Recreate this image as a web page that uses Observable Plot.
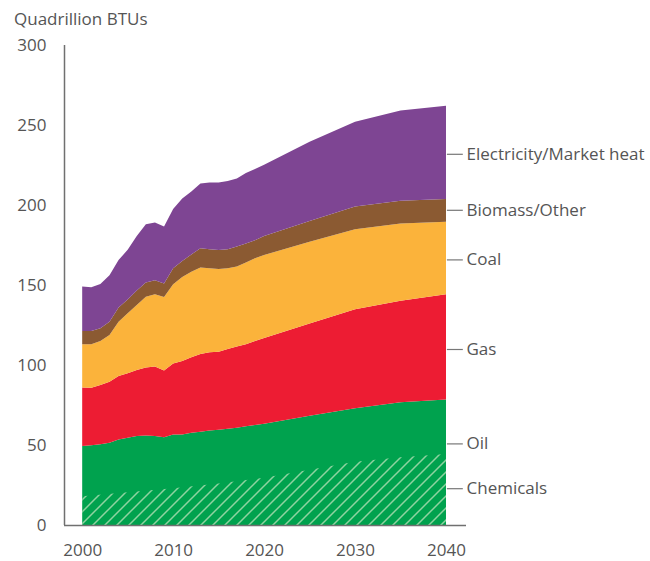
<!DOCTYPE html>
<html>
<head>
<meta charset="utf-8">
<script src="https://cdn.jsdelivr.net/npm/d3@7"></script>
<script src="https://cdn.jsdelivr.net/npm/@observablehq/plot@0.6"></script>
<style>
  body { margin: 0; background: #fff; font-family: "Open Sans", sans-serif; }
  #title { height: 30px; box-sizing: border-box; padding: 8px 0 0 14px; line-height: 22px; font-size: 17px; color: #555; }
  svg { display: block; }
</style>
</head>
<body>
<div id="title">Quadrillion BTUs</div>
<div id="chart"></div>
<script>
const years = [2000,2001,2002,2003,2004,2005,2006,2007,2008,2009,2010,2011,2012,2013,2014,2015,2016,2017,2018,2019,2020,2025,2030,2035,2040];
const oil = [49.4,49.8,50.4,51.4,53.5,54.6,55.6,56.0,55.6,54.8,56.5,56.5,57.7,58.3,59.0,59.6,60.2,60.8,61.7,62.5,63.3,68.3,72.9,76.7,78.5];
const gas = [36.6,36.0,37.1,38.2,39.6,40.2,41.3,42.5,43.4,41.7,44.5,46.0,47.1,48.6,49.0,48.7,49.8,50.7,51.3,52.5,53.5,57.7,61.9,63.5,65.7];
const coal = [27.0,27.2,27.5,29.2,33.9,37.5,40.6,44.2,45.2,46.0,49.5,52.5,53.5,54.1,52.4,51.7,50.4,50.0,51.0,51.7,52.0,51.0,50.0,48.3,45.4];
const biomass = [8.3,8.3,8.0,8.3,9.0,8.7,9.0,8.8,8.8,8.5,10.0,10.0,10.7,12.0,11.9,11.9,11.9,12.5,12.0,11.3,11.8,13.0,14.2,14.2,14.2];
const electricity = [27.8,27.3,27.6,29.0,29.6,31.0,34.1,36.5,36.0,35.5,37.0,39.0,39.5,40.5,41.7,42.1,42.7,42.5,44.0,44.5,44.5,49.6,53.0,56.3,58.3];

const chemYears = [2000,2005,2010,2015,2020,2025,2030,2035,2040];
const chemicals = [18.0,20.5,23.0,26.0,29.5,34.5,39.5,42.3,44.4];

const sources = ["Oil","Gas","Coal","Biomass/Other","Electricity/Market heat"];
const colors = ["#00A24E","#ED1C33","#FBB33B","#8B5A32","#7E4593"];
const seriesValues = [oil, gas, coal, biomass, electricity];

const labels = ["Electricity/Market heat","Biomass/Other","Coal","Gas","Oil","Chemicals"];
const labelAt = [232,197,166,110,51,23];

const yTicks = [0,50,100,150,200,250,300];
const xTicks = [2000,2010,2020,2030,2040];

const table = [];
sources.forEach((s, i) => years.forEach((yr, j) => table.push({year: yr, source: s, value: seriesValues[i][j]})));
const chemTable = chemYears.map((yr, j) => ({year: yr, value: chemicals[j]}));
const labelTable = labels.map((l, i) => ({label: l, at: labelAt[i]}));

const chart = Plot.plot({
  width: 650,
  height: 531,
  marginTop: 15,
  marginBottom: 36,
  marginLeft: 64,
  marginRight: 184,
  style: {fontFamily: "Open Sans, sans-serif", fontSize: "17px", color: "#555", background: "#fff"},
  x: {domain: [1998, 2042.2], ticks: xTicks, tickFormat: "d", tickSize: 0, tickPadding: 18, label: null},
  y: {domain: [0, 300], ticks: yTicks, tickSize: 0, tickPadding: 18, label: null},
  color: {domain: sources, range: colors},
  marks: [
    Plot.areaY(table, {x: "year", y: "value", fill: "source", order: sources}),
    Plot.areaY(chemTable, {x: "year", y: "value", fill: "url(#hatch)"}),
    Plot.ruleX([1998], {y1: 0, y2: 300, stroke: "#707070", strokeWidth: 1.5}),
    Plot.ruleY([0], {x1: 1998, x2: 2042.2, stroke: "#707070", strokeWidth: 1.5}),
    Plot.ruleY(labelTable, {y: "at", x1: 2040.1, x2: 2041.85, stroke: "#777", strokeWidth: 1.2}),
    Plot.text(labelTable, {y: "at", x: 2042.2, text: "label", textAnchor: "start", fill: "#555", fontSize: 17})
  ]
});

d3.select(chart).insert("defs", ":first-child").html(
  '<pattern id="hatch" patternUnits="userSpaceOnUse" width="12" height="12">' +
  '<path d="M-3,3 L3,-3 M0,12 L12,0 M9,15 L15,9" stroke="#8fd3a0" stroke-width="1.5" fill="none"/>' +
  '</pattern>'
);
document.getElementById("chart").appendChild(chart);
</script>
</body>
</html>
